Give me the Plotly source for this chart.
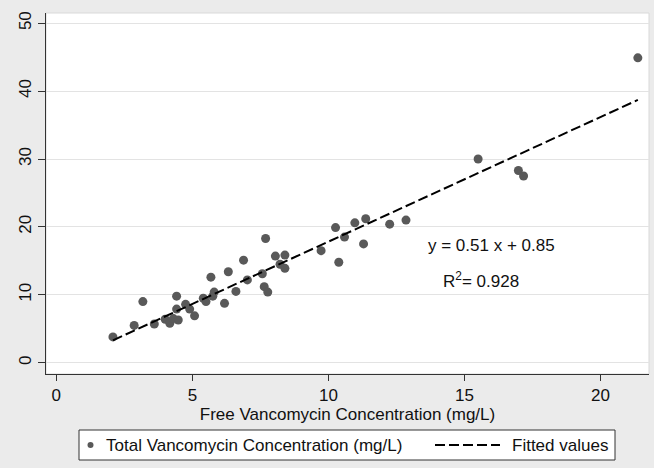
import numpy as np
import plotly.graph_objects as go

# ---- data ----
free_conc = [2.08, 2.86, 3.18, 3.60, 4.00, 4.17, 4.30, 4.48, 4.42, 4.42,
             4.75, 4.90, 5.08, 5.40, 5.50, 5.75, 5.80, 5.68, 6.18, 6.32,
             6.60, 6.88, 7.02, 7.57, 7.64, 7.77, 7.69, 8.05, 8.40, 8.22,
             8.40, 9.73, 10.26, 10.38, 10.59, 10.97, 11.37, 11.29, 12.25, 12.85,
             15.50, 16.98, 17.17, 21.37]
total_conc = [3.8, 5.5, 9.0, 5.7, 6.4, 5.8, 6.5, 6.3, 7.9, 9.8,
              8.6, 7.9, 6.9, 9.5, 9.0, 9.8, 10.4, 12.6, 8.75, 13.4,
              10.5, 15.1, 12.2, 13.1, 11.2, 10.4, 18.3, 15.7, 15.85, 14.5,
              13.9, 16.5, 19.9, 14.8, 18.5, 20.6, 21.2, 17.5, 20.4, 21.0,
              30.0, 28.3, 27.5, 44.9]
x_ticks = [0, 5, 10, 15, 20]
y_ticks = [0, 10, 20, 30, 40, 50]
series_name = "Total Vancomycin Concentration (mg/L)"
fit_name = "Fitted values"
x_title = "Free Vancomycin Concentration (mg/L)"
eq_label = "y = 0.51 x + 0.85"
r2_label = "R<sup>2</sup>= 0.928"

# linear fit (total on free)
slope, intercept = np.polyfit(free_conc, total_conc, 1)
x_fit = np.array([min(free_conc), max(free_conc)])
y_fit = slope * x_fit + intercept

FONT = "Arial, Liberation Sans, sans-serif"
FS = 17
W, H = 654, 468
ML, MR, MT, MB = 46, 5, 13, 94
PW, PH = W - ML - MR, H - MT - MB


def px(xp):
    return (xp - ML) / PW


def py(yp):
    return (H - MB - yp) / PH


fig = go.Figure()
fig.add_trace(go.Scatter(
    x=free_conc, y=total_conc, mode="markers", name=series_name,
    marker=dict(color="#595959", size=9, line=dict(width=0)),
    showlegend=False))
fig.add_trace(go.Scatter(
    x=x_fit, y=y_fit, mode="lines", name=fit_name,
    line=dict(color="black", width=2, dash="10px,4px"),
    showlegend=False))

shapes = [
    # plot region outline
    dict(type="rect", xref="paper", yref="paper", x0=0, x1=1, y0=0, y1=1,
         line=dict(color="#d9d9d9", width=1), layer="below"),
    # legend box
    dict(type="rect", xref="paper", yref="paper",
         x0=px(79), x1=px(615), y0=py(460), y1=py(430),
         line=dict(color="#333333", width=1), fillcolor="white"),
    # legend marker
    dict(type="circle", xref="paper", yref="paper",
         x0=px(87.5), x1=px(93.5), y0=py(448), y1=py(442),
         line=dict(width=0), fillcolor="#595959"),
    # legend dashed line
    dict(type="line", xref="paper", yref="paper",
         x0=px(435), x1=px(500), y0=py(445), y1=py(445),
         line=dict(color="black", width=2, dash="10px,4px")),
]

annotations = [
    dict(x=16.0, y=17.2, xref="x", yref="y", text=eq_label, showarrow=False,
         xanchor="center", yanchor="middle", font=dict(size=FS, color="#111")),
    dict(x=15.6, y=12.2, xref="x", yref="y", text=r2_label, showarrow=False,
         xanchor="center", yanchor="middle", font=dict(size=FS, color="#111")),
    dict(x=px(104), y=py(445), xref="paper", yref="paper", text=series_name,
         showarrow=False, xanchor="left", yanchor="middle",
         font=dict(size=FS, color="#111")),
    dict(x=px(510), y=py(445), xref="paper", yref="paper", text=fit_name,
         showarrow=False, xanchor="left", yanchor="middle",
         font=dict(size=FS, color="#111")),
]

fig.update_layout(
    width=W, height=H,
    margin=dict(l=ML, r=MR, t=MT, b=MB, pad=0),
    paper_bgcolor="#ebebeb", plot_bgcolor="white",
    font=dict(family=FONT, size=FS, color="#111"),
    shapes=shapes, annotations=annotations,
    xaxis=dict(range=[-0.38, 21.78], tickvals=x_ticks, ticks="outside",
               ticklen=6, tickcolor="#333", showline=True, linecolor="#333",
               linewidth=1, showgrid=False, zeroline=False,
               tickfont=dict(size=FS),
               title=dict(text=x_title, font=dict(size=FS), standoff=3)),
    yaxis=dict(range=[-1.66, 51.5], tickvals=y_ticks, ticks="outside",
               ticklen=7, tickcolor="#333", showline=True, linecolor="#333",
               linewidth=1, showgrid=True, gridcolor="#e3e3e3", gridwidth=1,
               zeroline=False, tickangle=-90, tickfont=dict(size=FS)),
)

fig.write_html("out.html")
